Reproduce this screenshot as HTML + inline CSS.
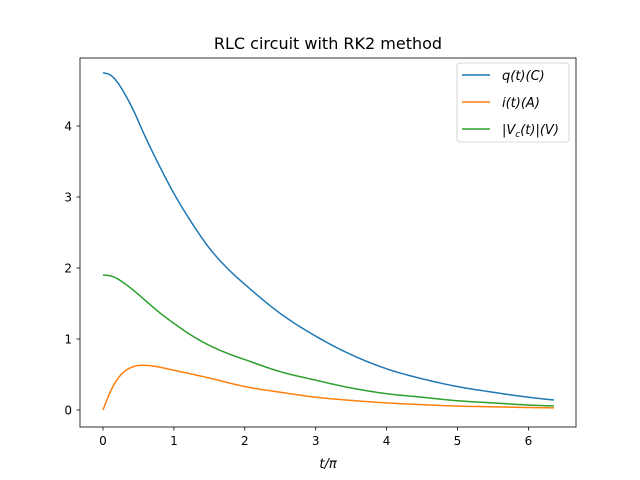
<!DOCTYPE html>
<html><head><meta charset="utf-8"><style>
body{margin:0;background:#fff}
svg{display:block;font-family:"DejaVu Sans","Liberation Sans",sans-serif}
</style></head><body>
<svg id="chart" width="640" height="480">
<rect width="640" height="480" fill="#fff"/>
<text x="328" y="49" font-size="16" text-anchor="middle">RLC circuit with RK2 method</text>
<g id="plot"></g>
<rect x="80" y="58" width="496" height="369" fill="none" stroke="#000" stroke-width="0.8"/>
<g id="xt"></g><g id="yt"></g>
<text x="328" y="468" font-size="13" text-anchor="middle" font-style="italic">t/π</text>
<g>
<rect x="457" y="63" width="112" height="79" rx="3" fill="#fff" stroke="#ccc" stroke-width="0.8"/>
<line x1="462" y1="75" x2="490" y2="75" stroke="#1f77b4" stroke-width="1.5"/>
<text x="502" y="80" font-size="13" font-style="italic">q(t)(C)</text>
<line x1="462" y1="102" x2="490" y2="102" stroke="#ff7f0e" stroke-width="1.5"/>
<text x="502" y="107" font-size="13" font-style="italic">i(t)(A)</text>
<line x1="462" y1="129" x2="490" y2="129" stroke="#2ca02c" stroke-width="1.5"/>
<text x="502" y="134" font-size="13" font-style="italic">|V<tspan font-size="9" dy="3">c</tspan><tspan dy="-3">(t)|(V)</tspan></text>
</g>
</svg>
<script>
const tq=[0,0.1,0.2,0.4,0.6,0.8,1.0,1.25,1.5,1.75,2,2.5,3,3.5,4,4.5,5,5.5,6,6.36];
const qVals=[4.75,4.72,4.62,4.28,3.84,3.43,3.05,2.64,2.28,2.0,1.77,1.36,1.04,0.78,0.58,0.44,0.33,0.25,0.18,0.14];
const vVals=[1.90,1.89,1.85,1.71,1.54,1.37,1.22,1.05,0.91,0.80,0.71,0.54,0.42,0.31,0.23,0.18,0.13,0.10,0.07,0.056];
const ti=[0,0.1,0.2,0.3,0.4,0.55,0.7,1.0,1.5,2,2.5,3,3.5,4,4.5,5,5.5,6,6.36];
const iVals=[0,0.25,0.43,0.54,0.60,0.63,0.62,0.56,0.45,0.33,0.25,0.18,0.135,0.10,0.075,0.055,0.045,0.035,0.03];
const xTicks=[0,1,2,3,4,5,6];
const yTicks=[0,1,2,3,4];
const X=v=>103+v*70.9, Y=v=>410-v*71;
const NS="http://www.w3.org/2000/svg";
function mono(xs,ys){
  const n=xs.length,d=[],m=new Array(n);
  for(let k=0;k<n-1;k++)d.push((ys[k+1]-ys[k])/(xs[k+1]-xs[k]));
  m[0]=d[0];m[n-1]=d[n-2];
  for(let k=1;k<n-1;k++)m[k]=(d[k-1]*d[k]<=0)?0:(d[k-1]+d[k])/2;
  for(let k=0;k<n-1;k++){
    if(d[k]===0){m[k]=m[k+1]=0;continue;}
    const a=m[k]/d[k],b=m[k+1]/d[k],s=a*a+b*b;
    if(s>9){const t=3/Math.sqrt(s);m[k]=t*a*d[k];m[k+1]=t*b*d[k];}
  }
  const pts=[];
  for(let k=0;k<n-1;k++){
    const h=xs[k+1]-xs[k];
    for(let j=0;j<20;j++){
      const t=j/20,t2=t*t,t3=t2*t;
      const y=(2*t3-3*t2+1)*ys[k]+(t3-2*t2+t)*h*m[k]+(-2*t3+3*t2)*ys[k+1]+(t3-t2)*h*m[k+1];
      pts.push(X(xs[k]+t*h).toFixed(2)+","+Y(y).toFixed(2));
    }
  }
  pts.push(X(xs[n-1])+","+Y(ys[n-1]));
  return "M"+pts.join(" L");
}
const plot=document.getElementById('plot');
[[tq,qVals,"#1f77b4","q-line"],[ti,iVals,"#ff7f0e","i-line"],[tq,vVals,"#2ca02c","vc-line"]].forEach(s=>{
  const el=document.createElementNS(NS,"path");
  el.setAttribute("d",mono(s[0],s[1]));el.setAttribute("fill","none");
  el.setAttribute("stroke",s[2]);el.setAttribute("stroke-width","1.5");
  
  
  plot.appendChild(el);
});
const xt=document.getElementById('xt');
xTicks.forEach(v=>{
  const g=document.createElementNS(NS,"g");
  
  
  g.innerHTML=`<line x1="${X(v)}" x2="${X(v)}" y1="427" y2="430.5" stroke="#000" stroke-width="0.8"/><text x="${X(v)}" y="445" font-size="12" text-anchor="middle">${v}</text>`;
  xt.appendChild(g);
});
const yt=document.getElementById('yt');
yTicks.forEach(v=>{
  const g=document.createElementNS(NS,"g");
  
  
  g.innerHTML=`<line x1="76.5" x2="80" y1="${Y(v)}" y2="${Y(v)}" stroke="#000" stroke-width="0.8"/><text x="72" y="${Y(v)+4.5}" font-size="12" text-anchor="end">${v}</text>`;
  yt.appendChild(g);
});
</script>
</body></html>
